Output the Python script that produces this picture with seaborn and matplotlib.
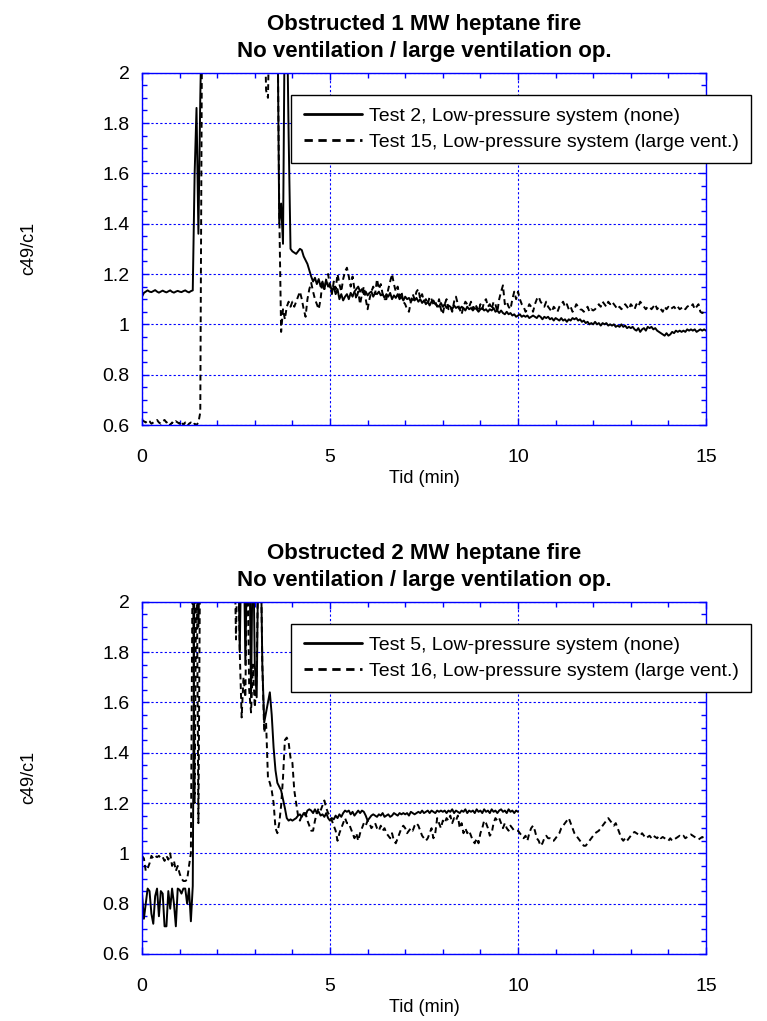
import numpy as np
import pandas as pd
import matplotlib
matplotlib.use("Agg")
import matplotlib.pyplot as plt
import seaborn as sns
from matplotlib.ticker import MultipleLocator, FuncFormatter

# ---------------- data (sampled every 0.05 min, one row per minute) ----------------
STEP = 0.05
OFF = 2.3   # values above the plotted range (off chart)

titles = ["Obstructed 1 MW heptane fire\nNo ventilation / large ventilation op.",
          "Obstructed 2 MW heptane fire\nNo ventilation / large ventilation op."]
labels_top = ["Test 2, Low-pressure system (none)", "Test 15, Low-pressure system (large vent.)"]
labels_bot = ["Test 5, Low-pressure system (none)", "Test 16, Low-pressure system (large vent.)"]
x_label = "Tid (min)"
y_label = "c49/c1"

test2_rows = [
    [1.11, 1.125, 1.13, 1.135, 1.13, 1.128, 1.132, 1.136, 1.13, 1.126,
     1.13, 1.134, 1.13, 1.127, 1.131, 1.135, 1.129, 1.126, 1.13, 1.133],
    [1.13, 1.128, 1.132, 1.135, 1.13, 1.127, 1.132, 1.135, 1.60, 1.86,
     1.36, 1.90, OFF, OFF, OFF, OFF, OFF, OFF, OFF, OFF],
    [OFF, OFF, OFF, OFF, OFF, OFF, OFF, OFF, OFF, OFF,
     OFF, OFF, OFF, OFF, OFF, OFF, OFF, OFF, OFF, OFF],
    [OFF, OFF, OFF, OFF, OFF, OFF, OFF, OFF, OFF, OFF,
     OFF, OFF, OFF, 1.40, 1.48, 1.32, OFF, OFF, 1.75, 1.30],
    [1.29, 1.285, 1.28, 1.29, 1.30, 1.295, 1.27, 1.255, 1.24, 1.215,
     1.19, 1.17, 1.185, 1.16, 1.18, 1.15, 1.17, 1.14, 1.175, 1.15],
    [1.16, 1.13, 1.15, 1.12, 1.14, 1.10, 1.12, 1.095, 1.11, 1.12,
     1.10, 1.125, 1.11, 1.13, 1.14, 1.15, 1.13, 1.14, 1.12, 1.13],
    [1.115, 1.125, 1.13, 1.11, 1.125, 1.12, 1.13, 1.115, 1.12, 1.105,
     1.12, 1.11, 1.125, 1.10, 1.115, 1.105, 1.12, 1.10, 1.11, 1.095],
    [1.11, 1.10, 1.105, 1.09, 1.10, 1.095, 1.105, 1.09, 1.10, 1.085,
     1.095, 1.08, 1.09, 1.075, 1.09, 1.095, 1.08, 1.075, 1.07, 1.085],
    [1.07, 1.08, 1.065, 1.075, 1.07, 1.06, 1.075, 1.065, 1.07, 1.06,
     1.07, 1.065, 1.055, 1.07, 1.06, 1.065, 1.055, 1.065, 1.06, 1.05],
    [1.06, 1.065, 1.055, 1.06, 1.05, 1.06, 1.055, 1.065, 1.05, 1.055,
     1.045, 1.055, 1.045, 1.04, 1.05, 1.04, 1.045, 1.035, 1.04, 1.03],
    [1.035, 1.04, 1.03, 1.035, 1.03, 1.035, 1.025, 1.03, 1.035, 1.03,
     1.025, 1.035, 1.03, 1.02, 1.03, 1.025, 1.03, 1.02, 1.025, 1.015],
    [1.025, 1.02, 1.015, 1.025, 1.015, 1.02, 1.01, 1.02, 1.015, 1.025,
     1.02, 1.025, 1.015, 1.02, 1.01, 1.015, 1.005, 1.01, 1.0, 1.005],
    [1.0, 1.01, 1.0, 1.005, 0.995, 1.005, 1.0, 1.005, 0.995, 1.0,
     0.995, 1.0, 0.99, 0.995, 0.99, 1.0, 0.99, 0.995, 0.985, 0.99],
    [0.985, 0.99, 0.98, 0.975, 0.985, 0.97, 0.98, 0.985, 0.975, 0.99,
     0.985, 0.99, 0.98, 0.985, 0.975, 0.97, 0.965, 0.96, 0.955, 0.965],
    [0.955, 0.96, 0.97, 0.965, 0.975, 0.97, 0.975, 0.97, 0.975, 0.97,
     0.98, 0.975, 0.98, 0.975, 0.98, 0.97, 0.975, 0.98, 0.975, 0.98],
]
test2_last = 0.975

test15_rows = [
    [0.62, 0.615, 0.61, 0.62, 0.615, 0.605, 0.61, 0.615, 0.62, 0.61,
     0.605, 0.615, 0.62, 0.61, 0.615, 0.60, 0.61, 0.605, 0.615, 0.61],
    [0.605, 0.615, 0.60, 0.61, 0.595, 0.605, 0.61, 0.60, 0.605, 0.60,
     0.61, 0.65, OFF, OFF, OFF, OFF, OFF, OFF, OFF, OFF],
    [OFF, OFF, OFF, OFF, OFF, OFF, OFF, OFF, OFF, OFF,
     OFF, OFF, OFF, OFF, OFF, OFF, OFF, OFF, OFF, OFF],
    [OFF, OFF, OFF, OFF, OFF, OFF, 1.93, 1.90, OFF, OFF,
     OFF, OFF, OFF, 1.45, 0.97, 1.06, 1.02, 1.07, 1.09, 1.07],
    [1.09, 1.07, 1.09, 1.11, 1.13, 1.10, 1.06, 1.03, 1.10, 1.14,
     1.165, 1.13, 1.10, 1.08, 1.06, 1.10, 1.17, 1.14, 1.18, 1.20],
    [1.15, 1.12, 1.17, 1.14, 1.20, 1.16, 1.13, 1.18, 1.21, 1.225,
     1.19, 1.15, 1.19, 1.14, 1.10, 1.13, 1.08, 1.12, 1.15, 1.10],
    [1.06, 1.10, 1.13, 1.15, 1.12, 1.18, 1.14, 1.16, 1.12, 1.10,
     1.10, 1.14, 1.17, 1.20, 1.16, 1.13, 1.15, 1.11, 1.13, 1.09],
    [1.08, 1.06, 1.05, 1.09, 1.12, 1.10, 1.13, 1.14, 1.10, 1.12,
     1.09, 1.10, 1.08, 1.11, 1.10, 1.08, 1.09, 1.07, 1.10, 1.06],
    [1.04, 1.08, 1.10, 1.06, 1.07, 1.05, 1.09, 1.11, 1.08, 1.06,
     1.04, 1.07, 1.09, 1.08, 1.07, 1.09, 1.06, 1.08, 1.07, 1.05],
    [1.08, 1.06, 1.09, 1.10, 1.07, 1.08, 1.06, 1.09, 1.08, 1.05,
     1.10, 1.13, 1.155, 1.08, 1.09, 1.07, 1.06, 1.10, 1.13, 1.10],
    [1.13, 1.10, 1.08, 1.07, 1.05, 1.06, 1.08, 1.07, 1.05, 1.08,
     1.10, 1.11, 1.09, 1.08, 1.07, 1.09, 1.07, 1.06, 1.05, 1.07],
    [1.06, 1.05, 1.07, 1.08, 1.09, 1.07, 1.08, 1.06, 1.07, 1.05,
     1.06, 1.08, 1.07, 1.06, 1.058, 1.05, 1.06, 1.07, 1.05, 1.06],
    [1.055, 1.06, 1.07, 1.08, 1.07, 1.09, 1.08, 1.07, 1.09, 1.08,
     1.09, 1.08, 1.07, 1.06, 1.07, 1.06, 1.07, 1.08, 1.07, 1.06],
    [1.08, 1.07, 1.06, 1.08, 1.07, 1.09, 1.08, 1.07, 1.06, 1.07,
     1.07, 1.06, 1.07, 1.08, 1.06, 1.07, 1.06, 1.05, 1.07, 1.06],
    [1.07, 1.06, 1.065, 1.07, 1.06, 1.07, 1.06, 1.065, 1.07, 1.06,
     1.07, 1.075, 1.07, 1.08, 1.06, 1.07, 1.08, 1.05, 1.045, 1.05],
]
test15_last = 1.04

test5_rows = [
    [0.84, 0.74, 0.80, 0.86, 0.85, 0.76, 0.72, 0.83, 0.86, 0.75,
     0.85, 0.84, 0.71, 0.71, 0.85, 0.78, 0.86, 0.80, 0.71, 0.86],
    [0.855, 0.84, 0.86, 0.86, 0.80, 0.86, 0.73, 0.87, OFF, OFF,
     1.90, OFF, OFF, OFF, OFF, OFF, OFF, OFF, OFF, OFF],
    [OFF, OFF, OFF, OFF, OFF, OFF, OFF, OFF, OFF, OFF,
     OFF, OFF, 1.80, OFF, OFF, 1.75, OFF, OFF, 1.62, OFF],
    [1.75, 1.62, OFF, OFF, 1.75, 1.52, 1.56, 1.60, 1.64, 1.55,
     1.42, 1.33, 1.28, 1.265, 1.25, 1.215, 1.18, 1.14, 1.13, 1.135],
    [1.13, 1.135, 1.14, 1.15, 1.155, 1.145, 1.16, 1.15, 1.17, 1.175,
     1.17, 1.16, 1.175, 1.16, 1.165, 1.15, 1.155, 1.145, 1.16, 1.14],
    [1.13, 1.14, 1.135, 1.15, 1.14, 1.155, 1.145, 1.16, 1.17, 1.165,
     1.17, 1.155, 1.165, 1.15, 1.16, 1.17, 1.16, 1.17, 1.165, 1.15],
    [1.13, 1.14, 1.15, 1.155, 1.15, 1.145, 1.155, 1.15, 1.16, 1.145,
     1.15, 1.155, 1.145, 1.15, 1.16, 1.155, 1.15, 1.16, 1.155, 1.16],
    [1.155, 1.16, 1.15, 1.165, 1.16, 1.155, 1.16, 1.165, 1.16, 1.17,
     1.16, 1.165, 1.17, 1.16, 1.17, 1.165, 1.16, 1.17, 1.165, 1.17],
    [1.165, 1.17, 1.16, 1.17, 1.165, 1.175, 1.16, 1.17, 1.165, 1.16,
     1.17, 1.165, 1.175, 1.16, 1.17, 1.165, 1.17, 1.16, 1.175, 1.165],
    [1.17, 1.16, 1.175, 1.165, 1.17, 1.16, 1.175, 1.165, 1.17, 1.16,
     1.17, 1.175, 1.165, 1.17, 1.16, 1.175, 1.165, 1.17, 1.16, 1.17],
]
test5_last = 1.165

test16_rows = [
    [0.99, 0.98, 0.93, 0.94, 0.96, 0.99, 0.98, 0.99, 0.985, 0.99,
     0.98, 0.985, 0.97, 0.99, 0.975, 1.0, 0.95, 0.97, 0.93, 0.95],
    [0.92, 0.90, 0.89, 0.89, 0.895, 0.95, 1.0, OFF, 1.20, OFF,
     1.12, OFF, OFF, OFF, OFF, OFF, OFF, OFF, OFF, OFF],
    [OFF, OFF, OFF, OFF, OFF, OFF, OFF, OFF, OFF, OFF,
     1.85, OFF, 1.80, 1.54, 1.70, 1.62, OFF, 1.65, 1.56, 1.75],
    [1.58, 1.70, OFF, OFF, 1.75, 1.48, 1.52, 1.30, 1.28, 1.25,
     1.20, 1.10, 1.08, 1.12, 1.19, 1.30, 1.45, 1.46, 1.44, 1.38],
    [1.36, 1.25, 1.20, 1.15, 1.13, 1.15, 1.16, 1.16, 1.13, 1.11,
     1.09, 1.09, 1.13, 1.16, 1.18, 1.17, 1.19, 1.21, 1.18, 1.16],
    [1.15, 1.13, 1.11, 1.09, 1.05, 1.08, 1.10, 1.12, 1.14, 1.12,
     1.12, 1.10, 1.08, 1.06, 1.08, 1.05, 1.08, 1.10, 1.12, 1.11],
    [1.13, 1.12, 1.10, 1.11, 1.12, 1.10, 1.09, 1.11, 1.09, 1.10,
     1.08, 1.07, 1.06, 1.08, 1.05, 1.04, 1.06, 1.08, 1.10, 1.11],
    [1.10, 1.08, 1.09, 1.10, 1.09, 1.11, 1.12, 1.11, 1.09, 1.07,
     1.06, 1.05, 1.06, 1.08, 1.10, 1.06, 1.08, 1.14, 1.12, 1.10],
    [1.13, 1.12, 1.14, 1.13, 1.15, 1.12, 1.14, 1.13, 1.15, 1.10,
     1.12, 1.08, 1.10, 1.08, 1.09, 1.07, 1.05, 1.04, 1.06, 1.04],
    [1.08, 1.10, 1.13, 1.12, 1.10, 1.07, 1.08, 1.12, 1.14, 1.13,
     1.14, 1.12, 1.10, 1.12, 1.10, 1.09, 1.11, 1.10, 1.09, 1.09],
    [1.09, 1.08, 1.07, 1.06, 1.07, 1.05, 1.08, 1.10, 1.11, 1.09,
     1.06, 1.05, 1.03, 1.04, 1.06, 1.07, 1.06, 1.06, 1.05, 1.05],
    [1.06, 1.07, 1.08, 1.10, 1.11, 1.12, 1.13, 1.14, 1.12, 1.10,
     1.08, 1.07, 1.06, 1.05, 1.04, 1.03, 1.03, 1.04, 1.05, 1.06],
    [1.07, 1.08, 1.085, 1.09, 1.10, 1.11, 1.12, 1.13, 1.14, 1.13,
     1.12, 1.11, 1.12, 1.10, 1.08, 1.06, 1.05, 1.06, 1.05, 1.06],
    [1.07, 1.08, 1.085, 1.08, 1.075, 1.07, 1.08, 1.07, 1.06, 1.065,
     1.07, 1.06, 1.07, 1.065, 1.06, 1.07, 1.06, 1.065, 1.06, 1.055],
    [1.05, 1.06, 1.05, 1.055, 1.06, 1.065, 1.07, 1.065, 1.07, 1.06,
     1.065, 1.07, 1.075, 1.07, 1.065, 1.06, 1.055, 1.06, 1.065, 1.06],
]
test16_last = 1.06

x_ticks = [0, 5, 10, 15]
y_ticks = [0.6, 0.8, 1.0, 1.2, 1.4, 1.6, 1.8, 2.0]


def build(rows, last):
    t, v = [], []
    for k, row in enumerate(rows):
        for j, val in enumerate(row):
            t.append(round(k + STEP * j, 3))
            v.append(val)
    t.append(float(len(rows)))
    v.append(last)
    return pd.DataFrame({"t": t, "v": v})


# ---------------- style ----------------
sns.set_theme(style="white")
plt.rcParams["font.family"] = ["Liberation Sans", "DejaVu Sans"]
plt.rcParams["text.color"] = "black"
plt.rcParams["axes.labelcolor"] = "black"
plt.rcParams["xtick.color"] = "black"
plt.rcParams["ytick.color"] = "black"

W, H = 767, 1021
fig = plt.figure(figsize=(W / 100, H / 100), dpi=100)

axL, axW = 142 / W, 564 / W
axH = 352.3 / H
ax_top = fig.add_axes([axL, 1 - 425 / H, axW, axH])
ax_bot = fig.add_axes([axL, 1 - 954 / H, axW, axH])

BLUE = "#0000ff"
DASH = (0, (3, 2))

panels = [
    (ax_top, build(test2_rows, test2_last), build(test15_rows, test15_last), labels_top, titles[0]),
    (ax_bot, build(test5_rows, test5_last), build(test16_rows, test16_last), labels_bot, titles[1]),
]

for ax, d_solid, d_dash, labs, ttl in panels:
    ax.set_axisbelow(True)
    sns.lineplot(data=d_solid, x="t", y="v", ax=ax, color="black", lw=1.4,
                 label=labs[0], estimator=None, sort=False)
    sns.lineplot(data=d_dash, x="t", y="v", ax=ax, color="black", lw=1.4,
                 linestyle=DASH, label=labs[1], estimator=None, sort=False)
    ax.set_xlim(0, 15)
    ax.set_ylim(0.6, 2.0)
    ax.set_xticks(x_ticks)
    ax.set_yticks(y_ticks)
    ax.xaxis.set_minor_locator(MultipleLocator(1))
    ax.yaxis.set_minor_locator(MultipleLocator(0.05))
    ax.yaxis.set_major_formatter(FuncFormatter(lambda v, p: f"{v:g}"))
    ax.grid(True, which="major", color=BLUE, linestyle=(0, (2, 2)), lw=0.8)
    for s in ax.spines.values():
        s.set_visible(True)
        s.set_color(BLUE)
        s.set_linewidth(1.0)
    ax.tick_params(which="both", direction="in", top=True, right=True,
                   bottom=True, left=True, color=BLUE, labelcolor="black",
                   labelsize=14)
    ax.tick_params(which="major", length=5, width=1)
    ax.tick_params(which="minor", length=3.5, width=1)
    ax.tick_params(axis="x", which="major", pad=17)
    ax.tick_params(axis="y", which="major", pad=9)
    ax.set_xlabel(x_label, fontsize=13, labelpad=3, color="black")
    ax.set_ylabel(y_label, fontsize=13, color="black")
    ax.yaxis.set_label_coords((37 - 142) / 564, 0.5)
    ax.set_title(ttl, fontsize=16, fontweight="bold", linespacing=1.42, pad=11,
                 color="black")
    leg = ax.legend(loc="upper left", bbox_to_anchor=(0.264, 0.938),
                    borderaxespad=0, fontsize=14, frameon=True, fancybox=False,
                    framealpha=1, edgecolor="black", handlelength=3.0,
                    handletextpad=0.35, labelspacing=0.42, borderpad=0.65)
    leg.get_frame().set_linewidth(1.0)
    for txt in leg.get_texts():
        txt.set_color("black")
    for h in leg.get_lines():
        h.set_linewidth(2.0)

fig.savefig("out.png", dpi=100)
